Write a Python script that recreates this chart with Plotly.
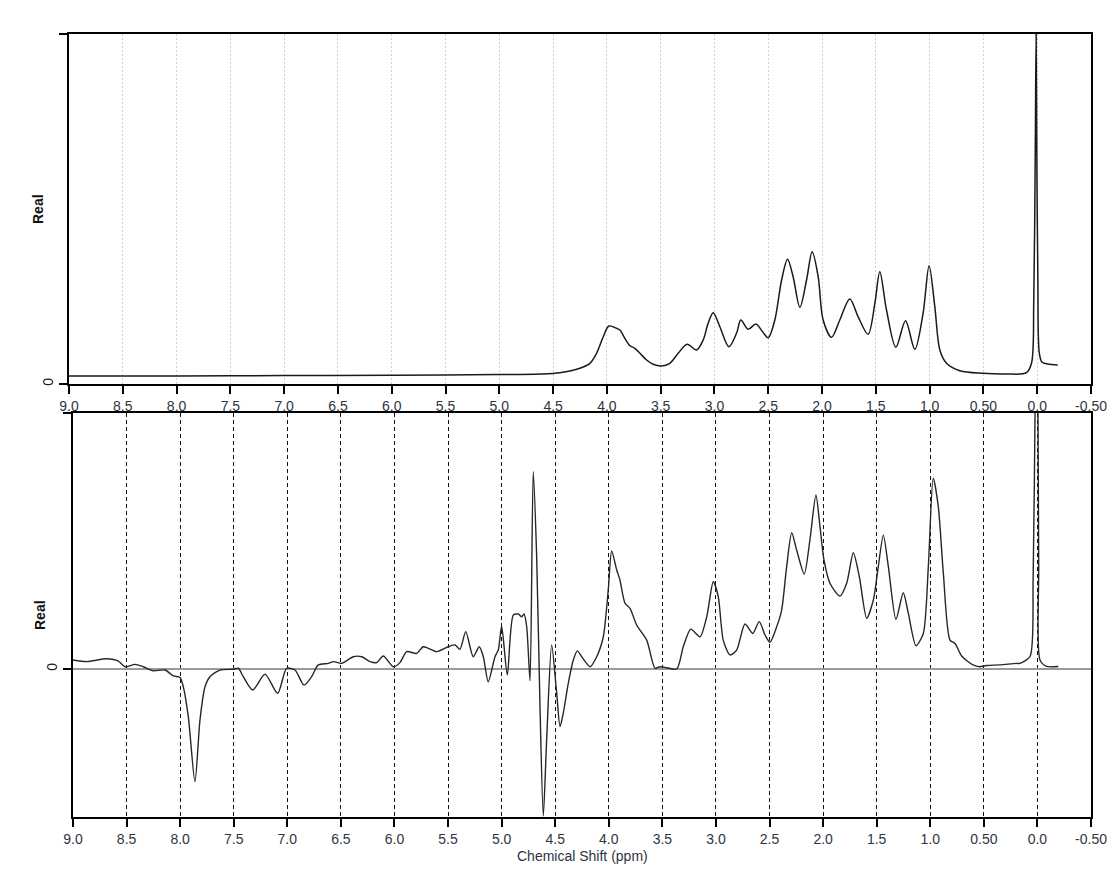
import plotly.graph_objects as go

# ---- Data ----
# Top panel: 1H spectrum (real part), chemical shift (ppm) and intensity (arbitrary units)
top_ppm = [9.0, 8.0, 7.0, 6.0, 5.5, 5.0, 4.623, 4.437, 4.251, 4.158, 4.096, 4.034, 3.981,
           3.910, 3.879, 3.833, 3.786, 3.740, 3.693, 3.631, 3.570, 3.492, 3.415, 3.337,
           3.254, 3.167, 3.105, 3.059, 3.012, 2.950, 2.866, 2.795, 2.755, 2.687, 2.615,
           2.553, 2.501, 2.439, 2.376, 2.321, 2.269, 2.206, 2.144, 2.092, 2.036, 1.990,
           1.912, 1.835, 1.742, 1.665, 1.572, 1.509, 1.463, 1.401, 1.314, 1.224, 1.138,
           1.061, 1.005, 0.952, 0.905, 0.843, 0.720, 0.503, 0.286, 0.100, 0.053, 0.032,
           0.018, 0.010, 0.004, -0.006, -0.019, -0.043, -0.098, -0.191]
top_int = [2.3, 2.3, 2.4, 2.5, 2.6, 2.7, 2.86, 3.23, 4.49, 5.91, 8.77, 13.51, 16.57,
           15.91, 15.43, 13.06, 10.94, 10.2, 8.77, 6.86, 5.63, 5.14, 5.91, 8.77,
           11.34, 9.71, 12.57, 17.34, 20.37, 16.37, 10.66, 14.49, 18.29, 15.63, 17.14,
           14.94, 13.23, 18.29, 29.71, 35.63, 30.66, 21.91, 29.71, 37.8, 30.66, 18.29,
           13.34, 18.29, 24.29, 19.23, 14.2, 23.06, 32.09, 21.14, 10.49, 18.09, 9.91,
           20.2, 33.8, 22.09, 9.71, 5.91, 3.8, 3.06, 2.86, 3.23, 5.91, 24.0,
           67.0, 100.0, 67.0, 30.0, 9.0, 6.3, 5.7, 5.4]

# Bottom panel: processed spectrum (real part)
bot_ppm = [9.0, 8.872, 8.686, 8.577, 8.515, 8.421, 8.344, 8.251, 8.141, 8.064, 8.001,
           7.971, 7.924, 7.862, 7.815, 7.768, 7.722, 7.628, 7.504, 7.457, 7.411, 7.323,
           7.208, 7.090, 7.006, 6.928, 6.844, 6.773, 6.711, 6.618, 6.571, 6.493, 6.384,
           6.306, 6.228, 6.166, 6.104, 6.011, 5.949, 5.886, 5.793, 5.731, 5.606, 5.498,
           5.435, 5.389, 5.335, 5.265, 5.209, 5.171, 5.125, 5.062, 5.031, 5.000, 4.947,
           4.891, 4.844, 4.813, 4.791, 4.766, 4.735, 4.705, 4.673, 4.642, 4.611, 4.580,
           4.533, 4.486, 4.455, 4.425, 4.378, 4.331, 4.294, 4.253, 4.175, 4.113, 4.051,
           4.005, 3.973, 3.926, 3.896, 3.849, 3.802, 3.740, 3.646, 3.569, 3.522, 3.460,
           3.366, 3.305, 3.235, 3.149, 3.086, 3.025, 2.978, 2.932, 2.869, 2.807, 2.729,
           2.657, 2.596, 2.542, 2.496, 2.433, 2.387, 2.340, 2.293, 2.247, 2.176, 2.123,
           2.067, 2.029, 1.992, 1.936, 1.843, 1.780, 1.718, 1.662, 1.593, 1.531, 1.485,
           1.438, 1.391, 1.320, 1.252, 1.205, 1.133, 1.065, 1.018, 0.972, 0.925, 0.878,
           0.816, 0.769, 0.707, 0.601, 0.538, 0.474, 0.349, 0.200, 0.163, 0.069, 0.040,
           0.020, 0.008, -0.004, -0.012, -0.024, -0.086, -0.195]
bot_int = [3.5, 2.9, 4.0, 3.1, 0.9, 1.8, 0.9, -0.7, -0.4, -2.7, -3.3,
           -6.9, -18.6, -44.0, -19.9, -6.9, -3.0, -0.4, -0.1, 0.3, -3.0, -8.2,
           -2.0, -9.5, 0.3, -0.4, -6.3, -3.0, 1.6, 2.2, 2.9, 2.2, 4.8,
           4.8, 2.9, 2.5, 5.1, 0.9, 2.5, 6.8, 6.1, 8.7, 6.8, 8.7,
           9.4, 7.7, 14.6, 4.8, 8.7, 4.8, -5.0, 4.8, 7.4, 16.8, -2.3,
           21.1, 21.5, 20.4, 21.5, 16.5, -4.6, 77.1, 43.9, -14.7, -57.4, -27.7,
           9.4, -9.5, -22.5, -17.3, -5.6, 3.5, 7.1, 4.8, 0.9, 4.8, 12.6,
           30.9, 46.1, 38.7, 34.8, 25.7, 23.7, 17.2, 11.3, 0.3, 0.9, 0.5,
           0.0, 8.7, 15.6, 12.6, 20.4, 34.1, 28.2, 11.3, 5.5, 7.4, 17.6,
           13.9, 18.5, 13.3, 10.4, 16.5, 23.0, 40.0, 53.2, 46.5, 37.1, 50.4,
           68.0, 55.6, 42.6, 33.5, 28.5, 33.5, 45.4, 36.1, 19.8, 27.0, 40.0,
           52.3, 40.0, 19.4, 29.8, 21.8, 9.1, 13.9, 40.0, 74.5, 63.4, 37.4,
           11.3, 10.0, 5.1, 1.6, 0.9, 1.4, 1.6, 2.2, 2.2, 4.9, 35.0,
           110.0, 140.0, 110.0, 40.0, 3.5, 1.0, 1.0]

tick_vals = [9.0, 8.5, 8.0, 7.5, 7.0, 6.5, 6.0, 5.5, 5.0, 4.5, 4.0, 3.5, 3.0, 2.5, 2.0,
             1.5, 1.0, 0.5, 0.0, -0.5]
tick_text = ["9.0", "8.5", "8.0", "7.5", "7.0", "6.5", "6.0", "5.5", "5.0", "4.5", "4.0",
             "3.5", "3.0", "2.5", "2.0", "1.5", "1.0", "0.50", "0.0", "-0.50"]

y_label = "Real"
x_label = "Chemical Shift (ppm)"

# The page body has an 8px margin, so the figure is offset by 8px in the window.
OFF = 8
W, H = 1120 - OFF, 876 - OFF


def fx(px):
    return (px - OFF) / W


def fy(py):
    return 1 - (py - OFF) / H


FONT = "Liberation Sans, Arial, sans-serif"
TXT = "#2f3542"

fig = go.Figure()
fig.add_trace(go.Scatter(x=top_ppm, y=top_int, mode="lines", xaxis="x", yaxis="y",
                         line=dict(color="#1a1a1a", width=1.5, shape="spline", smoothing=0.9),
                         showlegend=False, hoverinfo="skip"))
fig.add_trace(go.Scatter(x=bot_ppm, y=bot_int, mode="lines", xaxis="x2", yaxis="y2",
                         line=dict(color="#262626", width=1.4, shape="spline", smoothing=0.7),
                         showlegend=False, hoverinfo="skip"))

common_x = dict(range=[9.0, -0.5], autorange=False, tickmode="array", tickvals=tick_vals,
                ticktext=tick_text, ticks="outside", ticklen=8, tickwidth=2, tickcolor="black",
                showline=True, linecolor="black", linewidth=2, mirror=True, zeroline=False,
                automargin=False, tickfont=dict(family=FONT, size=14, color=TXT))
common_y = dict(tickmode="array", tickvals=[0, 100], ticktext=["0", ""], ticks="outside",
                ticklen=8, tickwidth=2, tickcolor="black", showline=True, linecolor="black",
                linewidth=2, mirror=True, showgrid=False, automargin=False, tickangle=-90,
                tickfont=dict(family=FONT, size=14, color="#222222"), autorange=False)

fig.update_layout(
    width=W, height=H, template="none",
    margin=dict(l=0, r=0, t=0, b=0),
    paper_bgcolor="white", plot_bgcolor="white",
    xaxis=dict(common_x, domain=[fx(69), fx(1091)], anchor="y",
               showgrid=True, gridcolor="#d0d0d0", griddash="2px,2px", gridwidth=1),
    yaxis=dict(common_y, domain=[fy(384), fy(34)], anchor="x", range=[0, 100],
               zeroline=False),
    xaxis2=dict(common_x, domain=[fx(73), fx(1091)], anchor="y2",
                showgrid=True, gridcolor="#111111", griddash="4px,3px", gridwidth=1),
    yaxis2=dict(common_y, domain=[fy(817), fy(413)], anchor="x2", range=[-57.8, 100],
                zeroline=True, zerolinecolor="#9a9a9a", zerolinewidth=2),
    annotations=[
        dict(text=y_label, xref="paper", yref="paper", x=fx(38), y=fy(209),
             textangle=-90, showarrow=False, xanchor="center", yanchor="middle",
             font=dict(family=FONT, size=14, color="#111111", weight="bold")),
        dict(text=y_label, xref="paper", yref="paper", x=fx(40), y=fy(615),
             textangle=-90, showarrow=False, xanchor="center", yanchor="middle",
             font=dict(family=FONT, size=14, color="#111111", weight="bold")),
        dict(text=x_label, xref="paper", yref="paper", x=fx(582), y=fy(856),
             showarrow=False, xanchor="center", yanchor="middle",
             font=dict(family=FONT, size=14, color=TXT)),
    ],
)

fig.write_html("out.html", config={"displayModeBar": False})
